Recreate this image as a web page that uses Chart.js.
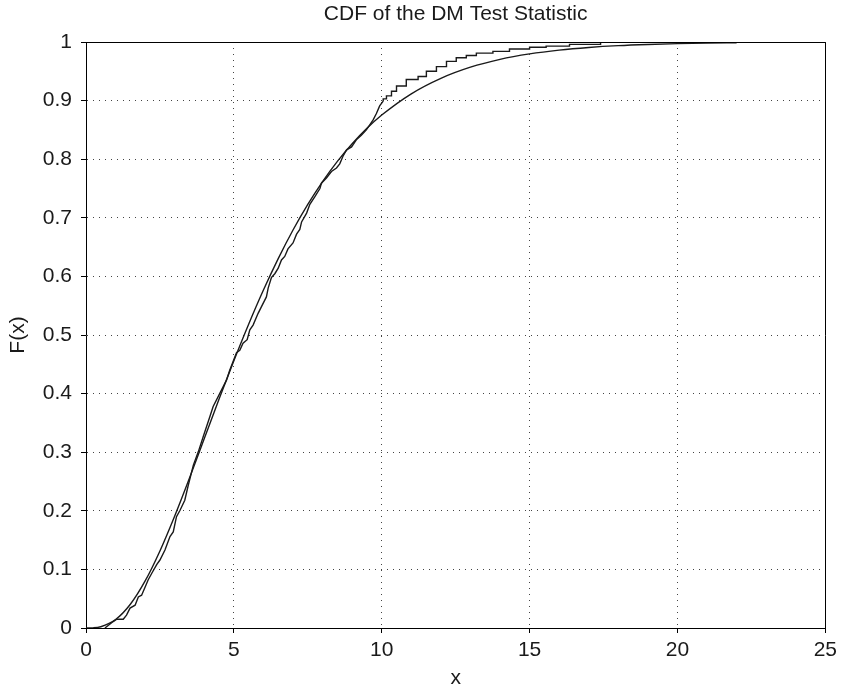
<!DOCTYPE html>
<html>
<head>
<meta charset="utf-8">
<title>CDF of the DM Test Statistic</title>
<script src="https://cdn.jsdelivr.net/npm/chart.js@4/dist/chart.umd.min.js"></script>
<style>
  html, body { margin: 0; padding: 0; background: #ffffff; }
  #wrap { width: 842px; height: 691px; }
</style>
</head>
<body>
<div id="wrap"><canvas id="cdf" width="842" height="691"></canvas></div>
<script>
// Empirical CDF of the DM statistic
const empiricalX = [0.64, 0.92, 1.04, 1.26, 1.37, 1.49, 1.66, 1.77, 1.88, 2.00,
  2.10, 2.22, 2.39, 2.50, 2.67, 2.84, 2.95, 3.06, 3.18, 3.34,
  3.46, 3.63, 3.80, 3.96, 4.19, 4.30, 4.58, 4.75, 4.86, 5.09,
  5.20, 5.31, 5.45, 5.54, 5.65, 5.82, 5.93, 6.10, 6.16, 6.27,
  6.39, 6.50, 6.61, 6.72, 6.83, 7.00, 7.12, 7.23, 7.29, 7.46,
  7.57, 7.74, 7.91, 7.96, 8.13, 8.30, 8.47, 8.58, 8.69, 8.81,
  8.98, 9.14, 9.31, 9.48, 9.71, 9.82, 9.93, 10.05, 10.16, 10.33,
  10.50, 10.83, 11.23, 11.51, 11.85, 12.19, 12.52, 12.86, 13.20, 13.76,
  14.32, 15.00, 15.56, 16.35, 17.40, 18.49, 21.60];
const empiricalF = [0.000, 0.011, 0.015, 0.015, 0.022, 0.034, 0.039, 0.053, 0.056, 0.070,
  0.082, 0.093, 0.108, 0.116, 0.133, 0.156, 0.164, 0.190, 0.201, 0.218,
  0.244, 0.278, 0.301, 0.326, 0.361, 0.378, 0.406, 0.423, 0.440, 0.470,
  0.474, 0.486, 0.492, 0.509, 0.517, 0.537, 0.548, 0.565, 0.580, 0.598,
  0.605, 0.614, 0.628, 0.634, 0.647, 0.657, 0.672, 0.680, 0.693, 0.708,
  0.723, 0.736, 0.750, 0.759, 0.768, 0.779, 0.785, 0.792, 0.805, 0.816,
  0.821, 0.833, 0.841, 0.850, 0.867, 0.878, 0.891, 0.899, 0.903, 0.908,
  0.916, 0.925, 0.936, 0.941, 0.950, 0.958, 0.967, 0.973, 0.977, 0.981,
  0.984, 0.988, 0.991, 0.993, 0.996, 1.000, 1.000];

// Reference (theoretical) CDF, smooth curve
const theoryX = [0, 0.25, 0.5, 1, 1.5, 2, 2.5, 3, 3.5, 4, 4.5, 5, 5.5, 6, 6.5, 7, 7.5,
  8, 8.5, 9, 9.5, 10, 11, 12, 13, 14, 15, 16, 17, 18, 19, 20, 21, 22];
const theoryF = [0, 0.0003, 0.0022, 0.0144, 0.0405, 0.0803, 0.1315, 0.1912, 0.2560,
  0.3233, 0.3907, 0.4562, 0.5185, 0.5768, 0.6304, 0.6792, 0.7229, 0.7619, 0.7963,
  0.8264, 0.8527, 0.8753, 0.9116, 0.9380, 0.9570, 0.9704, 0.9797, 0.9862, 0.9907,
  0.9938, 0.9958, 0.9972, 0.9982, 0.9988];

// Axis ticks
const xTicks = [0, 5, 10, 15, 20, 25];
const yTicks = [0, 0.1, 0.2, 0.3, 0.4, 0.5, 0.6, 0.7, 0.8, 0.9, 1];

const TITLE = 'CDF of the DM Test Statistic';
const FONT = '"Liberation Sans", Arial, Helvetica, sans-serif';
const FONT_SIZE = 21;
const INK = '#1a1a1a';

const toPoints = (xs, ys) => xs.map((x, i) => ({ x: x, y: ys[i] }));

// The steep part of the empirical curve is drawn as a polyline,
// the flat upper tail as a staircase; they share the point at the split.
const splitAt = empiricalX.indexOf(10.05);
const empiricalAll = toPoints(empiricalX, empiricalF);
const empiricalBody = empiricalAll.slice(0, splitAt + 1);
const empiricalTail = empiricalAll.slice(splitAt);

// Closes the plot box on the top and right sides and writes the title
// centred over the plot area.
const frameBox = {
  id: 'frameBox',
  afterDatasetsDraw(chart) {
    const a = chart.chartArea;
    const ctx = chart.ctx;
    ctx.save();
    ctx.strokeStyle = '#000';
    ctx.lineWidth = 1;
    ctx.beginPath();
    ctx.moveTo(Math.round(a.left) + 0.5, Math.round(a.top) + 0.5);
    ctx.lineTo(Math.round(a.right) + 0.5, Math.round(a.top) + 0.5);
    ctx.lineTo(Math.round(a.right) + 0.5, Math.round(a.bottom) + 0.5);
    ctx.stroke();
    ctx.fillStyle = INK;
    ctx.font = FONT_SIZE + 'px ' + FONT;
    ctx.textAlign = 'center';
    ctx.textBaseline = 'middle';
    ctx.fillText(TITLE, (a.left + a.right) / 2, 14);
    ctx.restore();
  }
};

const lineStyle = {
  borderColor: '#1a1a1a',
  borderWidth: 1.4,
  pointRadius: 0,
  fill: false
};

const tickFont = { family: FONT, size: FONT_SIZE, lineHeight: 1.2 };

new Chart(document.getElementById('cdf'), {
  type: 'line',
  data: {
    datasets: [
      Object.assign({ label: 'Empirical', data: empiricalBody, tension: 0 }, lineStyle),
      Object.assign({ label: 'Empirical tail', data: empiricalTail, stepped: 'after' }, lineStyle),
      Object.assign({ label: 'Theoretical', data: toPoints(theoryX, theoryF),
        cubicInterpolationMode: 'monotone' }, lineStyle)
    ]
  },
  options: {
    responsive: false,
    animation: false,
    devicePixelRatio: 1,
    layout: { padding: { left: 0, right: 16, top: 42, bottom: 0 } },
    plugins: {
      legend: { display: false },
      tooltip: { enabled: false },
      title: { display: false }
    },
    scales: {
      x: {
        type: 'linear',
        min: 0,
        max: 25,
        afterFit: (s) => { s.height = 63; },
        afterBuildTicks: (s) => { s.ticks = xTicks.map(v => ({ value: v })); },
        ticks: {
          color: INK,
          padding: 5,
          font: tickFont,
          maxRotation: 0,
          callback: (v) => String(v)
        },
        grid: {
          color: '#444',
          lineWidth: 1,
          drawTicks: true,
          tickLength: 5,
          tickColor: '#000',
          tickBorderDash: []
        },
        border: { display: true, color: '#000', width: 1, dash: [1, 5] },
        title: {
          display: true,
          text: 'x',
          color: INK,
          font: tickFont,
          padding: { top: 0, bottom: 0 }
        }
      },
      y: {
        type: 'linear',
        min: 0,
        max: 1,
        afterFit: (s) => { s.width = 86; },
        afterBuildTicks: (s) => { s.ticks = yTicks.map(v => ({ value: v })); },
        ticks: {
          color: INK,
          padding: 9,
          font: tickFont,
          callback: (v) => String(Math.round(v * 10) / 10)
        },
        grid: {
          color: '#444',
          lineWidth: 1,
          drawTicks: true,
          tickLength: 5,
          tickColor: '#000',
          tickBorderDash: []
        },
        border: { display: true, color: '#000', width: 1, dash: [1, 5] },
        title: {
          display: true,
          text: 'F(x)',
          color: INK,
          font: tickFont,
          padding: { top: 6, bottom: 0 }
        }
      }
    }
  },
  plugins: [frameBox]
});
</script>
</body>
</html>
